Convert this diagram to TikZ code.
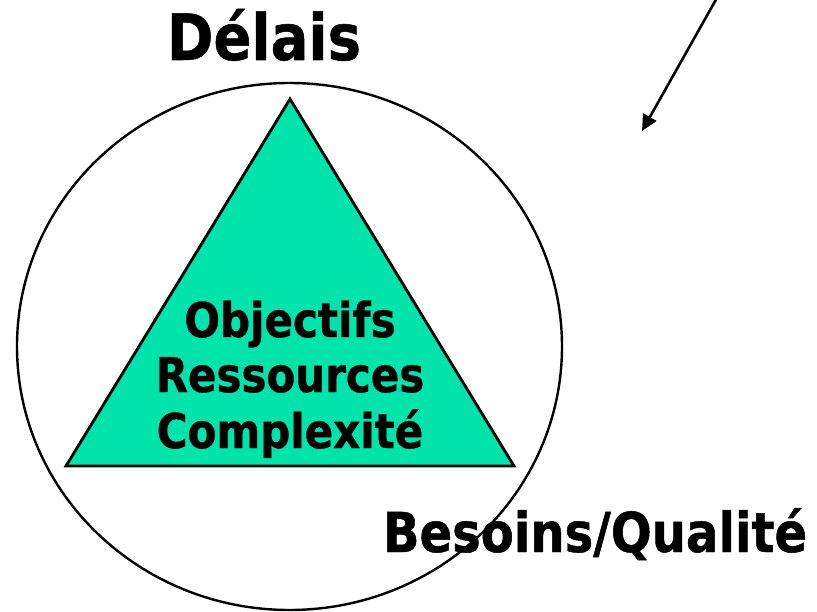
\documentclass[tikz,border=0pt]{standalone}
\usepackage{fontspec}
\newfontfamily\tahomalike[FakeStretch=0.875, BoldFeatures={FakeBold=0.8}]{DejaVu Sans}
\usetikzlibrary{arrows.meta}
\definecolor{trigreen}{HTML}{00E3AA}
\tikzset{
  lbl/.style={font=\tahomalike\bfseries, anchor=base, inner sep=0pt},
  big/.style={lbl, font=\tahomalike\bfseries\fontsize{64}{70}\selectfont},
  mid/.style={lbl, font=\tahomalike\bfseries\fontsize{55}{62}\selectfont},
  inner/.style={lbl, font=\tahomalike\bfseries\fontsize{48}{54}\selectfont},
  ring/.style={draw=black, line width=2.4pt},
  tri/.style={draw=black, fill=trigreen, line width=2.8pt, line join=miter},
  pointer/.style={draw=black, line width=2.6pt, -{Triangle[length=16pt,width=15pt]}}
}
\begin{document}
\begin{tikzpicture}[x=1pt,y=-1pt]
  \useasboundingbox (0,0) rectangle (817,612);
  \draw[ring] (289.5,346.5) ellipse [x radius=272.5, y radius=263.5];
  \coordinate (apex) at (290,99);
  \coordinate (bl) at (66,466);
  \coordinate (br) at (514,466);
  \filldraw[tri] (apex) -- (br) -- (bl) -- cycle;
  \node[big] (delais) at (264,60) {Délais};
  \node[inner] (obj) at (290,337) {Objectifs};
  \node[inner] (res) at (290,392) {Ressources};
  \node[inner] (comp) at (290,448) {Complexité};
  \node[mid] (besoins) at (595,552) {Besoins/Qualité};
  \coordinate (arrstart) at (718,-4);
  \coordinate (arrend) at (642,131);
  \draw[pointer] (arrstart) -- (arrend);
\end{tikzpicture}
\end{document}
